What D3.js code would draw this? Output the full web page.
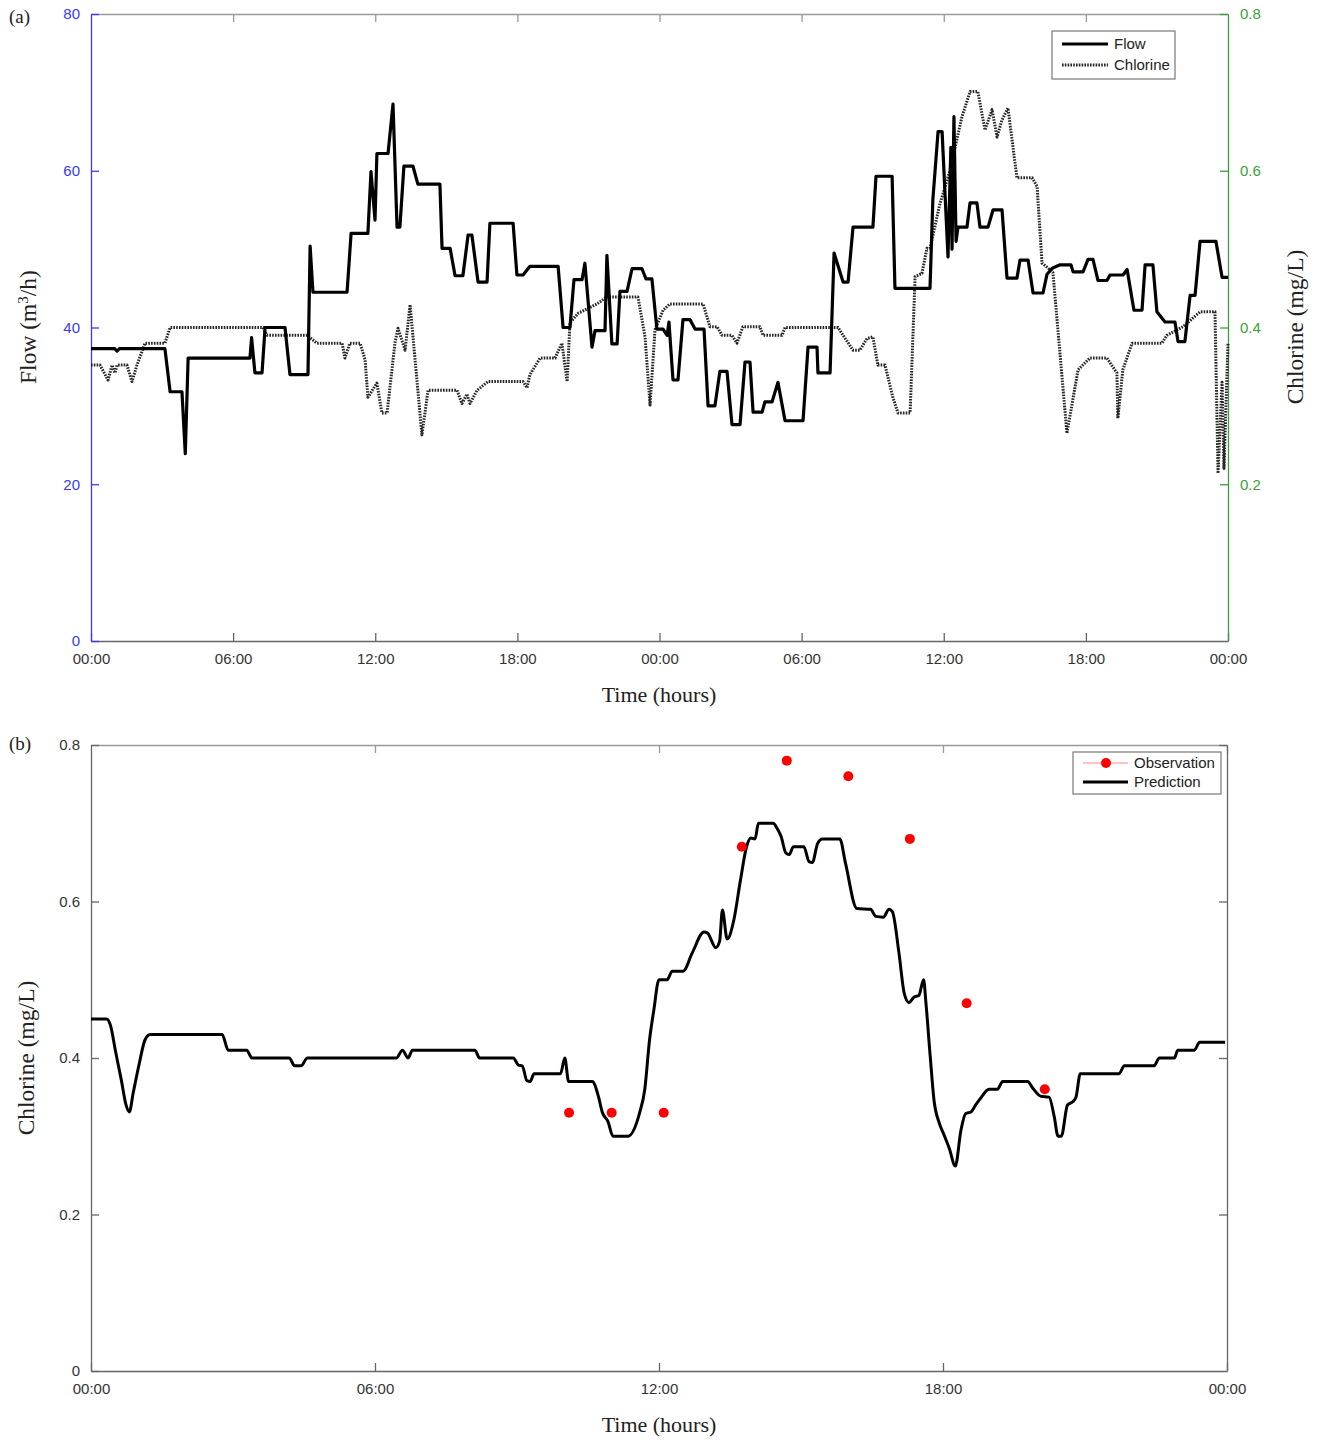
<!DOCTYPE html>
<html>
<head>
<meta charset="utf-8">
<script src="https://cdn.jsdelivr.net/npm/d3@7"></script>
<style>
body { margin: 0; background: #fff; }
.tick text { font-family: Arial, "Liberation Sans", sans-serif; font-size: 15px; }
.title { font-family: "Times New Roman", "Liberation Serif", serif; font-size: 22px; fill: #222; }
.vtitle { font-size: 23.5px; }
.legend text { font-family: Arial, "Liberation Sans", sans-serif; font-size: 15px; fill: #222; }
</style>
</head>
<body>
<svg id="chart" width="1319" height="1440"></svg>
<script>
// panel (a): [hour, flow m3/h]
var flowData = [
  [0, 37.3], [1.0, 37.3], [1.1, 37.0], [1.2, 37.3], [3.12, 37.3], [3.34, 31.8], [3.84, 31.8], [3.98, 23.9],
  [4.1, 36.1], [6.71, 36.1], [6.78, 38.7], [6.92, 34.2], [7.22, 34.2], [7.35, 40.0], [8.19, 40.0], [8.4, 34.0],
  [9.16, 34.0], [9.25, 50.4], [9.37, 44.5], [10.81, 44.5], [10.98, 52.0], [11.69, 52.0], [11.82, 59.9], [11.99, 53.7],
  [12.07, 62.2], [12.54, 62.2], [12.75, 68.5], [12.92, 52.8], [13.04, 52.8], [13.21, 60.6], [13.59, 60.6], [13.8, 58.3],
  [14.73, 58.3], [14.82, 50.1], [15.16, 50.1], [15.37, 46.6], [15.7, 46.6], [15.92, 51.8], [16.08, 51.8], [16.34, 45.8],
  [16.72, 45.8], [16.84, 53.3], [17.82, 53.3], [17.98, 46.7], [18.24, 46.7], [18.53, 47.8], [19.72, 47.8], [19.93, 40.0],
  [20.22, 40.0], [20.39, 46.1], [20.73, 46.1], [20.85, 48.2], [21.15, 37.5], [21.28, 39.6], [21.7, 39.6], [21.78, 49.2],
  [21.99, 37.9], [22.21, 37.9], [22.33, 44.6], [22.63, 44.6], [22.84, 47.5], [23.26, 47.5], [23.43, 46.2], [23.68, 46.2],
  [23.89, 39.8], [24.15, 39.8], [24.32, 39.0], [24.4, 40.7], [24.57, 33.3], [24.78, 33.3], [24.99, 41.0], [25.29, 41.0],
  [25.5, 39.8], [25.88, 39.8], [26.05, 30.0], [26.34, 30.0], [26.55, 34.4], [26.85, 34.4], [27.06, 27.6], [27.4, 27.6],
  [27.61, 35.6], [27.82, 35.6], [27.95, 29.2], [28.33, 29.2], [28.45, 30.5], [28.75, 30.5], [29.0, 33.0], [29.3, 28.1],
  [30.06, 28.1], [30.27, 37.5], [30.65, 37.5], [30.69, 34.2], [31.2, 34.2], [31.37, 49.5], [31.75, 45.8], [31.96, 45.8],
  [32.17, 52.8], [33.01, 52.8], [33.14, 59.3], [33.82, 59.3], [33.94, 45.0], [35.42, 45.0], [35.54, 56.3], [35.76, 65.0],
  [35.93, 65.0], [36.18, 49.0], [36.3, 63.0], [36.35, 50.0], [36.43, 66.9], [36.52, 51.0], [36.6, 52.8], [36.98, 52.8],
  [37.11, 55.9], [37.4, 55.9], [37.53, 52.8], [37.87, 52.8], [38.08, 55.0], [38.46, 55.0], [38.67, 46.3], [39.09, 46.3],
  [39.22, 48.6], [39.56, 48.6], [39.77, 44.4], [40.19, 44.4], [40.36, 46.8], [40.6, 47.6], [40.91, 48.0], [41.37, 48.0],
  [41.46, 47.1], [41.88, 47.1], [42.09, 48.7], [42.3, 48.7], [42.51, 46.0], [42.89, 46.0], [43.02, 46.7], [43.57, 46.7],
  [43.74, 47.4], [44.03, 42.2], [44.37, 42.2], [44.5, 48.0], [44.83, 48.0], [45.0, 42.0], [45.34, 40.7], [45.76, 40.7],
  [45.89, 38.2], [46.18, 38.2], [46.4, 44.1], [46.61, 44.1], [46.82, 51.0], [47.49, 51.0], [47.75, 46.4], [48, 46.4]
];

// panel (a): [hour, chlorine mg/L]
var chlorineData = [
  [0, 0.352], [0.38, 0.352], [0.72, 0.333], [0.89, 0.352], [1.01, 0.342], [1.1, 0.352], [1.52, 0.352], [1.73, 0.331],
  [1.94, 0.352], [2.28, 0.38], [3.12, 0.38], [3.34, 0.40], [7.26, 0.40], [7.43, 0.39], [9.12, 0.39], [9.54, 0.38],
  [10.6, 0.38], [10.72, 0.361], [10.93, 0.38], [11.36, 0.38], [11.57, 0.359], [11.69, 0.311], [12.07, 0.329], [12.28, 0.291],
  [12.5, 0.291], [12.83, 0.38], [12.96, 0.399], [13.26, 0.371], [13.47, 0.429], [13.97, 0.263], [14.23, 0.32], [15.45, 0.32],
  [15.66, 0.303], [15.87, 0.315], [16.0, 0.303], [16.3, 0.32], [16.76, 0.331], [18.24, 0.331], [18.41, 0.323], [18.53, 0.34],
  [18.96, 0.361], [19.59, 0.361], [19.88, 0.38], [20.1, 0.331], [20.22, 0.406], [20.56, 0.418], [21.36, 0.43], [21.78, 0.439],
  [23.09, 0.439], [23.39, 0.388], [23.6, 0.301], [23.81, 0.397], [24.15, 0.422], [24.44, 0.43], [25.84, 0.43], [26.13, 0.401],
  [26.43, 0.401], [26.64, 0.39], [27.06, 0.39], [27.27, 0.38], [27.52, 0.401], [28.24, 0.401], [28.37, 0.39], [29.17, 0.39],
  [29.3, 0.40], [31.54, 0.40], [31.75, 0.39], [32.17, 0.371], [32.46, 0.371], [32.76, 0.386], [33.01, 0.388], [33.22, 0.352],
  [33.52, 0.352], [33.86, 0.31], [34.07, 0.291], [34.58, 0.291], [34.79, 0.465], [35.08, 0.469], [35.29, 0.501], [35.42, 0.501],
  [35.84, 0.558], [36.26, 0.60], [36.77, 0.669], [37.11, 0.701], [37.44, 0.701], [37.74, 0.652], [38.04, 0.678], [38.25, 0.643],
  [38.46, 0.665], [38.71, 0.68], [39.09, 0.591], [39.73, 0.591], [39.94, 0.58], [40.15, 0.482], [40.36, 0.477], [40.61, 0.47],
  [41.2, 0.265], [41.67, 0.346], [42.17, 0.361], [42.89, 0.361], [43.31, 0.342], [43.35, 0.284], [43.56, 0.346], [43.95, 0.38],
  [45.21, 0.38], [45.42, 0.39], [46.1, 0.401], [46.82, 0.42], [47.45, 0.42], [47.58, 0.214], [47.75, 0.33], [47.83, 0.22],
  [48, 0.38]
];

// panel (b): predicted chlorine [hour, mg/L]
var predictionData = [
  [0, 0.45], [0.33, 0.45], [0.41, 0.442], [0.52, 0.408], [0.64, 0.372], [0.74, 0.34], [0.81, 0.331], [0.89, 0.355],
  [1.02, 0.393], [1.14, 0.423], [1.25, 0.43], [2.77, 0.43], [2.9, 0.41], [3.29, 0.41], [3.4, 0.40], [4.19, 0.40],
  [4.3, 0.39], [4.44, 0.39], [4.57, 0.40], [6.45, 0.40], [6.58, 0.41], [6.7, 0.40], [6.79, 0.41], [8.11, 0.41],
  [8.21, 0.40], [8.92, 0.40], [9.03, 0.391], [9.11, 0.39], [9.21, 0.371], [9.28, 0.37], [9.36, 0.38], [9.92, 0.38],
  [10.01, 0.40], [10.09, 0.37], [10.59, 0.37], [10.72, 0.351], [10.8, 0.331], [10.92, 0.319], [11.03, 0.30], [11.34, 0.30],
  [11.59, 0.33], [11.7, 0.36], [11.8, 0.423], [11.89, 0.461], [12.0, 0.50], [12.17, 0.50], [12.28, 0.511], [12.51, 0.511],
  [12.7, 0.534], [12.95, 0.561], [13.02, 0.56], [13.2, 0.541], [13.28, 0.549], [13.34, 0.589], [13.44, 0.552], [13.58, 0.576],
  [13.72, 0.627], [13.85, 0.67], [13.94, 0.681], [14.03, 0.68], [14.1, 0.70], [14.41, 0.70], [14.5, 0.693], [14.58, 0.683],
  [14.68, 0.662], [14.75, 0.66], [14.84, 0.67], [15.06, 0.67], [15.17, 0.651], [15.24, 0.65], [15.35, 0.674], [15.45, 0.68],
  [15.82, 0.68], [15.94, 0.649], [16.18, 0.591], [16.47, 0.59], [16.58, 0.581], [16.74, 0.58], [16.86, 0.59], [16.93, 0.587],
  [17.07, 0.534], [17.18, 0.483], [17.28, 0.471], [17.39, 0.478], [17.49, 0.48], [17.59, 0.50], [17.64, 0.47], [17.73, 0.402],
  [17.81, 0.346], [17.92, 0.317], [18.02, 0.302], [18.13, 0.285], [18.26, 0.262], [18.38, 0.308], [18.48, 0.329], [18.59, 0.331],
  [18.69, 0.34], [18.8, 0.349], [18.97, 0.36], [19.15, 0.36], [19.26, 0.37], [19.79, 0.37], [19.89, 0.362], [20.07, 0.351],
  [20.24, 0.35], [20.35, 0.325], [20.43, 0.30], [20.5, 0.30], [20.63, 0.34], [20.74, 0.344], [20.81, 0.35], [20.9, 0.38],
  [21.72, 0.38], [21.83, 0.39], [22.46, 0.39], [22.57, 0.40], [22.89, 0.40], [22.96, 0.41], [23.31, 0.41], [23.42, 0.42],
  [23.96, 0.42]
];

// panel (b): observed chlorine
var obsHours = [10.1, 11.0, 12.1, 13.75, 14.7, 16.0, 17.3, 18.5, 20.15];
var obsValues = [0.33, 0.33, 0.33, 0.67, 0.78, 0.76, 0.68, 0.47, 0.36];

var flowTicks = [0, 20, 40, 60, 80];
var clTicksA = [0.2, 0.4, 0.6, 0.8];
var clTicksB = [0, 0.2, 0.4, 0.6, 0.8];
var legendA = ["Flow", "Chlorine"];
var legendB = ["Observation", "Prediction"];

var blue = "#3a3af2",
    green = "#3a9f3a",
    axisGray = "#666",
    borderGray = "#9a9a9a",
    dotColor = "#262626",
    dotDash = "1.6,1.2";

var svg = d3.select("#chart"),
    marginA = { top: 14, left: 91 },
    widthA = 1137,
    heightA = 627,
    marginB = { top: 745, left: 91 },
    widthB = 1136,
    heightB = 626;

var hourFmt = function(d) { return d3.format("02d")(d % 24) + ":00"; };

var xA = d3.scaleLinear().domain([0, 48]).range([0, widthA]),
    yFlow = d3.scaleLinear().domain([0, 80]).range([heightA, 0]),
    yClA = d3.scaleLinear().domain([0, 0.8]).range([heightA, 0]),
    xB = d3.scaleLinear().domain([0, 24]).range([0, widthB]),
    yClB = d3.scaleLinear().domain([0, 0.8]).range([heightB, 0]);

function styleAxis(g, color, textColor) {
    g.select(".domain").attr("stroke", color).attr("stroke-width", 1.3);
    g.selectAll(".tick line").attr("stroke", color).attr("stroke-width", 1.3);
    g.selectAll(".tick text").attr("fill", textColor);
}

// ---------- panel (a) ----------
var focus = svg.append("g")
    .attr("transform", "translate(" + marginA.left + "," + marginA.top + ")");

focus.append("g")
    .attr("transform", "translate(0," + heightA + ")")
    .call(d3.axisBottom(xA).tickValues(d3.range(0, 49, 6)).tickFormat(hourFmt)
        .tickSizeInner(-8).tickSizeOuter(0).tickPadding(12))
    .call(styleAxis, axisGray, "#333");

focus.append("g")
    .call(d3.axisTop(xA).tickValues(d3.range(6, 48, 6)).tickFormat("")
        .tickSizeInner(-8).tickSizeOuter(0))
    .call(styleAxis, borderGray, "#333");

focus.append("g")
    .call(d3.axisLeft(yFlow).tickValues(flowTicks).tickFormat(d3.format("d"))
        .tickSizeInner(-8).tickSizeOuter(0).tickPadding(11))
    .call(styleAxis, blue, blue);

focus.append("g")
    .attr("transform", "translate(" + widthA + ",0)")
    .call(d3.axisRight(yClA).tickValues(clTicksA).tickFormat(d3.format(".1f"))
        .tickSizeInner(-8).tickSizeOuter(0).tickPadding(12))
    .call(styleAxis, green, green);

var flowLine = d3.line()
    .x(function(d) { return xA(d[0]); })
    .y(function(d) { return yFlow(d[1]); });

var clLineA = d3.line()
    .x(function(d) { return xA(d[0]); })
    .y(function(d) { return yClA(d[1]); });

focus.append("path")
    .datum(chlorineData)
    .attr("fill", "none")
    .attr("stroke", dotColor)
    .attr("stroke-width", 3)
    .attr("stroke-dasharray", dotDash)
    .attr("stroke-linejoin", "round")
    .attr("d", clLineA);

focus.append("path")
    .datum(flowData)
    .attr("fill", "none")
    .attr("stroke", "#000")
    .attr("stroke-width", 3.2)
    .attr("stroke-linejoin", "round")
    .attr("d", flowLine);

var legA = focus.append("g")
    .attr("class", "legend")
    .attr("transform", "translate(" + (1052 - marginA.left) + "," + (31 - marginA.top) + ")");

legA.append("rect")
    .attr("width", 123).attr("height", 48)
    .attr("fill", "#fff").attr("stroke", "#777").attr("stroke-width", 1.2);

legA.selectAll(".item")
    .data(legendA)
    .enter().append("g")
    .attr("transform", function(d, i) { return "translate(0," + (13 + i * 21) + ")"; })
    .each(function(d, i) {
        var g = d3.select(this);
        g.append("line")
            .attr("x1", 10).attr("x2", 56)
            .attr("stroke", i === 0 ? "#000" : dotColor)
            .attr("stroke-width", i === 0 ? 3.2 : 3)
            .attr("stroke-dasharray", i === 0 ? null : dotDash);
        g.append("text")
            .attr("x", 62).attr("dy", "0.35em")
            .text(d);
    });

svg.append("text")
    .attr("class", "title")
    .attr("x", 659).attr("y", 702)
    .attr("text-anchor", "middle")
    .text("Time (hours)");

var flowTitle = svg.append("text")
    .attr("class", "title vtitle")
    .attr("transform", "translate(36,327) rotate(-90)")
    .attr("text-anchor", "middle");
flowTitle.append("tspan").text("Flow (m");
flowTitle.append("tspan").attr("baseline-shift", "super").attr("font-size", "15px").text("3");
flowTitle.append("tspan").text("/h)");

svg.append("text")
    .attr("class", "title vtitle")
    .attr("transform", "translate(1303,327) rotate(-90)")
    .attr("text-anchor", "middle")
    .text("Chlorine (mg/L)");

svg.append("text")
    .attr("class", "title")
    .attr("x", 9).attr("y", 23)
    .style("font-size", "19px")
    .text("(a)");

// ---------- panel (b) ----------
var context = svg.append("g")
    .attr("transform", "translate(" + marginB.left + "," + marginB.top + ")");

context.append("g")
    .attr("transform", "translate(0," + heightB + ")")
    .call(d3.axisBottom(xB).tickValues(d3.range(0, 25, 6)).tickFormat(hourFmt)
        .tickSizeInner(-8).tickSizeOuter(0).tickPadding(12))
    .call(styleAxis, axisGray, "#333");

context.append("g")
    .call(d3.axisTop(xB).tickValues(d3.range(6, 25, 6)).tickFormat("")
        .tickSizeInner(-8).tickSizeOuter(0))
    .call(styleAxis, borderGray, "#333");

context.append("g")
    .call(d3.axisLeft(yClB).tickValues(clTicksB)
        .tickFormat(function(d) { return d === 0 ? "0" : d3.format(".1f")(d); })
        .tickSizeInner(-8).tickSizeOuter(0).tickPadding(11))
    .call(styleAxis, axisGray, "#333");

context.append("g")
    .attr("transform", "translate(" + widthB + ",0)")
    .call(d3.axisRight(yClB).tickValues(clTicksB.slice(1)).tickFormat("")
        .tickSizeInner(-8).tickSizeOuter(0))
    .call(styleAxis, axisGray, "#333");

var predLine = d3.line()
    .curve(d3.curveMonotoneX)
    .x(function(d) { return xB(d[0]); })
    .y(function(d) { return yClB(d[1]); });

context.append("path")
    .datum(predictionData)
    .attr("fill", "none")
    .attr("stroke", "#000")
    .attr("stroke-width", 3)
    .attr("stroke-linejoin", "round")
    .attr("d", predLine);

context.selectAll(".obs")
    .data(obsHours)
    .enter().append("circle")
    .attr("class", "obs")
    .attr("cx", function(d) { return xB(d); })
    .attr("cy", function(d, i) { return yClB(obsValues[i]); })
    .attr("r", 5)
    .attr("fill", "#f00");

var legB = context.append("g")
    .attr("class", "legend")
    .attr("transform", "translate(" + (1073 - marginB.left) + "," + (752 - marginB.top) + ")");

legB.append("rect")
    .attr("width", 148).attr("height", 42)
    .attr("fill", "#fff").attr("stroke", "#777").attr("stroke-width", 1.2);

legB.selectAll(".item")
    .data(legendB)
    .enter().append("g")
    .attr("transform", function(d, i) { return "translate(0," + (11 + i * 19) + ")"; })
    .each(function(d, i) {
        var g = d3.select(this);
        g.append("line")
            .attr("x1", 10).attr("x2", 55)
            .attr("stroke", i === 0 ? "#f88" : "#000")
            .attr("stroke-width", i === 0 ? 1.2 : 3);
        if (i === 0) {
            g.append("circle").attr("cx", 33).attr("r", 5).attr("fill", "#f00");
        }
        g.append("text")
            .attr("x", 61).attr("dy", "0.35em")
            .text(d);
    });

svg.append("text")
    .attr("class", "title")
    .attr("x", 659).attr("y", 1432)
    .attr("text-anchor", "middle")
    .text("Time (hours)");

svg.append("text")
    .attr("class", "title vtitle")
    .attr("transform", "translate(34,1058) rotate(-90)")
    .attr("text-anchor", "middle")
    .text("Chlorine (mg/L)");

svg.append("text")
    .attr("class", "title")
    .attr("x", 9).attr("y", 750)
    .style("font-size", "19px")
    .text("(b)");
</script>
</body>
</html>
